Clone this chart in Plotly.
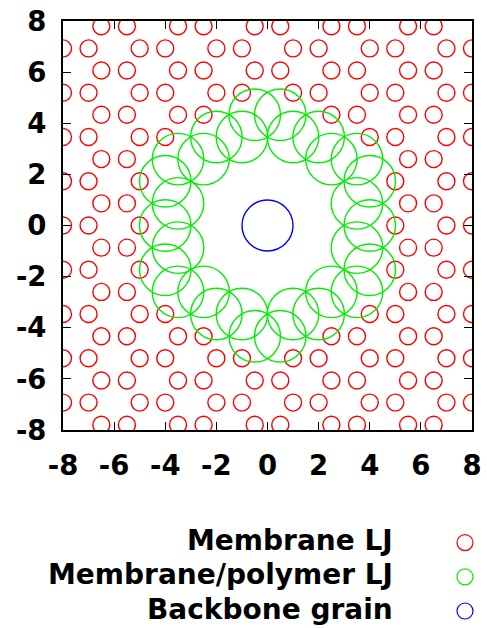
import plotly.graph_objects as go

# ---- data ----
# honeycomb rows of the membrane (y of each row) and the red (Membrane LJ) sites in each row
row_y = [7.794, 6.928, 6.062, 5.196, 4.330, 3.464, 2.598, 1.732, 0.866, 0.0,
         -0.866, -1.732, -2.598, -3.464, -4.330, -5.196, -6.062, -6.928, -7.794]
red_x_rows = [
    [-6.5, -5.5, -3.5, -2.5, -0.5, 0.5, 2.5, 3.5, 5.5, 6.5],
    [-8, -7, -5, -4, -2, -1, 1, 2, 4, 5, 7, 8],
    [-6.5, -5.5, -3.5, -2.5, -0.5, 0.5, 2.5, 3.5, 5.5, 6.5],
    [-8, -7, -5, -4, -2, -1, 1, 2, 4, 5, 7, 8],
    [-6.5, -5.5, -3.5, -2.5, 2.5, 3.5, 5.5, 6.5],
    [-8, -7, -5, -4, 4, 5, 7, 8],
    [-6.5, -5.5, 5.5, 6.5],
    [-8, -7, -5, 5, 7, 8],
    [-6.5, -5.5, 5.5, 6.5],
    [-8, -7, -5, 5, 7, 8],
    [-6.5, -5.5, 5.5, 6.5],
    [-8, -7, -5, 5, 7, 8],
    [-6.5, -5.5, 5.5, 6.5],
    [-8, -7, -5, -4, 4, 5, 7, 8],
    [-6.5, -5.5, -3.5, -2.5, 2.5, 3.5, 5.5, 6.5],
    [-8, -7, -5, -4, -2, -1, 1, 2, 4, 5, 7, 8],
    [-6.5, -5.5, -3.5, -2.5, -0.5, 0.5, 2.5, 3.5, 5.5, 6.5],
    [-8, -7, -5, -4, -2, -1, 1, 2, 4, 5, 7, 8],
    [-6.5, -5.5, -3.5, -2.5, -0.5, 0.5, 2.5, 3.5, 5.5, 6.5],
]
# green (Membrane/polymer LJ) sites forming the ring
green_x = [3.5, 3.5, -3.5, -3.5, 2.5, 2.5, -2.5, -2.5, 1, 1, -1, -1,
           4, -4, 2, 2, -2, -2,
           4, 4, -4, -4, 3.5, 3.5, -3.5, -3.5, 0.5, 0.5, -0.5, -0.5]
green_y = [0.866, -0.866, 0.866, -0.866, 2.598, -2.598, 2.598, -2.598, 3.464, -3.464, 3.464, -3.464,
           0.0, 0.0, 3.464, -3.464, 3.464, -3.464,
           1.732, -1.732, 1.732, -1.732, 2.598, -2.598, 2.598, -2.598, 4.330, -4.330, 4.330, -4.330]
# backbone grain
blue_x = [0.0]
blue_y = [0.0]

series_names = ["Membrane LJ", "Membrane/polymer LJ", "Backbone grain"]
series_colors = ["#ff0000", "#00ee00", "#0000ff"]
tick_vals = [-8, -6, -4, -2, 0, 2, 4, 6, 8]
tick_text = ["-8", "-6", "-4", "-2", "0", "2", "4", "6", "8"]

red_x = [x for xs in red_x_rows for x in xs]
red_y = [y for y, xs in zip(row_y, red_x_rows) for _ in xs]

FONT = "DejaVu Sans"

fig = go.Figure()
fig.add_trace(go.Scatter(x=red_x, y=red_y, mode="markers", name=series_names[0], showlegend=False,
                         marker=dict(symbol="circle-open", size=17, color=series_colors[0], line=dict(width=1.4))))
fig.add_trace(go.Scatter(x=green_x, y=green_y, mode="markers", name=series_names[1], showlegend=False,
                         marker=dict(symbol="circle-open", size=51.5, color=series_colors[1], line=dict(width=1.4))))
fig.add_trace(go.Scatter(x=blue_x, y=blue_y, mode="markers", name=series_names[2], showlegend=False,
                         marker=dict(symbol="circle-open", size=51, color=series_colors[2], line=dict(width=1.4))))
# legend keys (gnuplot style: text on the left, key symbol on the right)
for i, c in enumerate(series_colors):
    fig.add_trace(go.Scatter(x=[None], y=[None], mode="markers", name=" ", legendgroup=f"g{i}",
                             marker=dict(symbol="circle-open", size=17, color=c, line=dict(width=1.2))))

W0, H0 = 409.0, 409.0
label_y_px = [540.3, 574.8, 609.2]
for name, ypx in zip(series_names, label_y_px):
    fig.add_annotation(x=(395 - 63) / W0, y=(430 - ypx) / H0, xref="paper", yref="paper",
                       text=name, showarrow=False, xanchor="right", yanchor="middle",
                       font=dict(family=FONT, size=28, color="black", weight="bold"))

axis_common = dict(range=[-8, 8], tickvals=tick_vals, ticktext=tick_text, ticks="inside", ticklen=8,
                   tickwidth=1.3, tickcolor="black", showline=True, linecolor="black", linewidth=2,
                   mirror="ticks", showgrid=False, zeroline=False, automargin=False,
                   tickfont=dict(family=FONT, size=27.5, color="black", weight="bold"))

fig.update_layout(
    width=487, height=628,
    margin=dict(l=63, r=15, t=21, b=198, pad=0, autoexpand=False),
    paper_bgcolor="white", plot_bgcolor="white",
    xaxis=dict(**axis_common, ticklabelstandoff=10),
    yaxis=dict(**axis_common, ticklabelstandoff=9),
    showlegend=True,
    legend=dict(x=(445 - 63) / W0, xanchor="left", y=(430 - 520.5) / H0, yanchor="top",
                bgcolor="rgba(0,0,0,0)", font=dict(family=FONT, size=24), tracegroupgap=0,
                itemsizing="trace"),
)

fig.write_html("out.html", config={"displayModeBar": False},
               post_script="document.body.style.margin='0';document.body.style.overflow='hidden';")
